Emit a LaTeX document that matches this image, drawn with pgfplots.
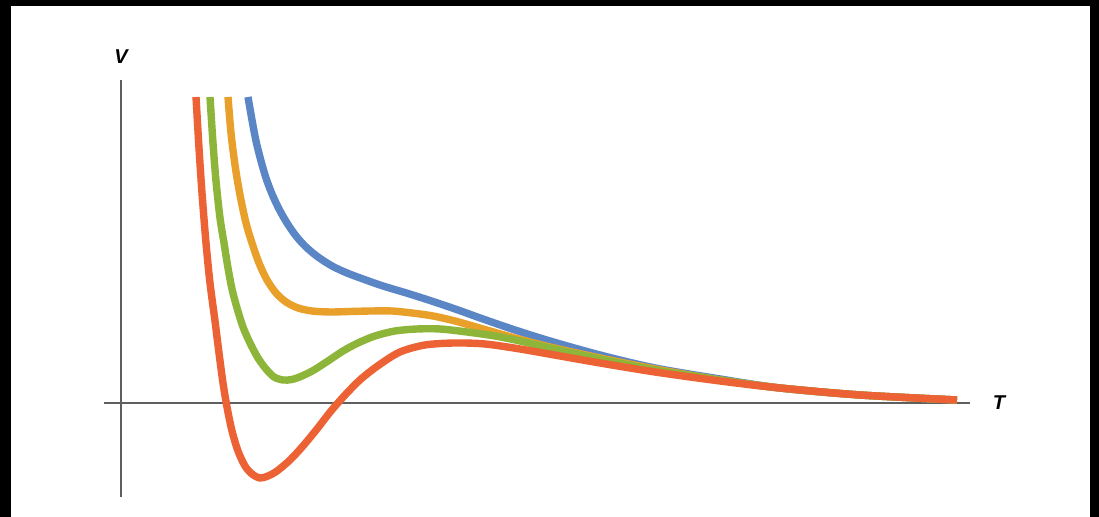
\documentclass[border=0pt]{standalone}
\usepackage{pgfplots}
\pgfplotsset{compat=1.18}
\usepackage{fontspec}
\setmainfont{Liberation Sans}
\definecolor{cblue}{RGB}{91,134,197}
\definecolor{corange}{RGB}{233,160,42}
\definecolor{cgreen}{RGB}{140,181,58}
\definecolor{cred}{RGB}{236,98,52}
\definecolor{axgray}{RGB}{95,95,95}
\begin{document}
\begin{tikzpicture}
\begin{axis}[
  width=549.5pt, height=258.5pt, scale only axis,
  xmin=0, xmax=1099, ymin=-114, ymax=403,
  hide axis, clip=false,
]
\fill[black] (axis cs:0,-114) rectangle (axis cs:1099,403);
\fill[white] (axis cs:11,-114) rectangle (axis cs:1090,397);
\draw[axgray, line width=1pt] (axis cs:104,0) -- (axis cs:970,0);
\draw[axgray, line width=1pt] (axis cs:121,-94) -- (axis cs:121,323);
\node[font=\fontsize{10}{11}\selectfont\bfseries\itshape] at (axis cs:121,346) {V};
\node[font=\fontsize{10}{11}\selectfont\bfseries\itshape] at (axis cs:999,0) {T};
% blue
\addplot[cblue, line width=3.7pt, smooth, tension=0.5] coordinates {
(248,306)(252,283)(256,262)(261,242)(266,225)(272,209)(279,194)(287,180)(296,167)(306,156)(318,146)(332,137)(347,130)(363,124)(383,117)(408,109.5)(433,101.5)(458,93)(483,84)(515,73)(550,62)(600,48)(655,35)(720,24)(780,15)(860,8)(957,3)};
% orange
\addplot[corange, line width=3.7pt, smooth, tension=0.5] coordinates {
(228,306)(231,270)(235,238)(240,208)(246,180)(252,160)(259,140)(267,123)(276,110)(286,101)(298,95)(312,92)(330,91)(350,91.5)(372,92)(392,92)(412,90)(433,87)(455,82)(483,74)(515,65)(550,56)(600,45)(655,34)(720,23)(780,15)(860,8)(957,3)};
% green
\addplot[cgreen, line width=3.7pt, smooth, tension=0.5] coordinates {
(210,306)(213,260)(216,222)(220,185)(224,160)(228,135)(232,114)(237,95)(243,76)(250,60)(258,45)(266,34)(274,26)(283,23)(292,23.5)(302,27)(314,33)(328,42)(343,52)(358,60)(375,67)(395,72)(417,74)(440,74)(467,71)(495,67)(520,62)(550,55)(600,44)(655,33)(720,23)(780,15)(860,8)(957,3)};
% red
\addplot[cred, line width=3.7pt, smooth, tension=0.5] coordinates {
(196,306)(199,255)(202,210)(206,160)(210,120)(215,82)(219,50)(223,20)(227,-4)(232,-28)(238,-48)(245,-63)(252,-71)(260,-75)(268,-73)(277,-68)(290,-57)(303,-43)(317,-26)(331,-8)(346,9)(361,24)(379,38)(400,51)(425,58)(455,60)(485,59)(520,54)(560,47)(600,40)(655,31)(720,22)(780,15)(860,8)(957,3)};
\end{axis}
\end{tikzpicture}
\end{document}
